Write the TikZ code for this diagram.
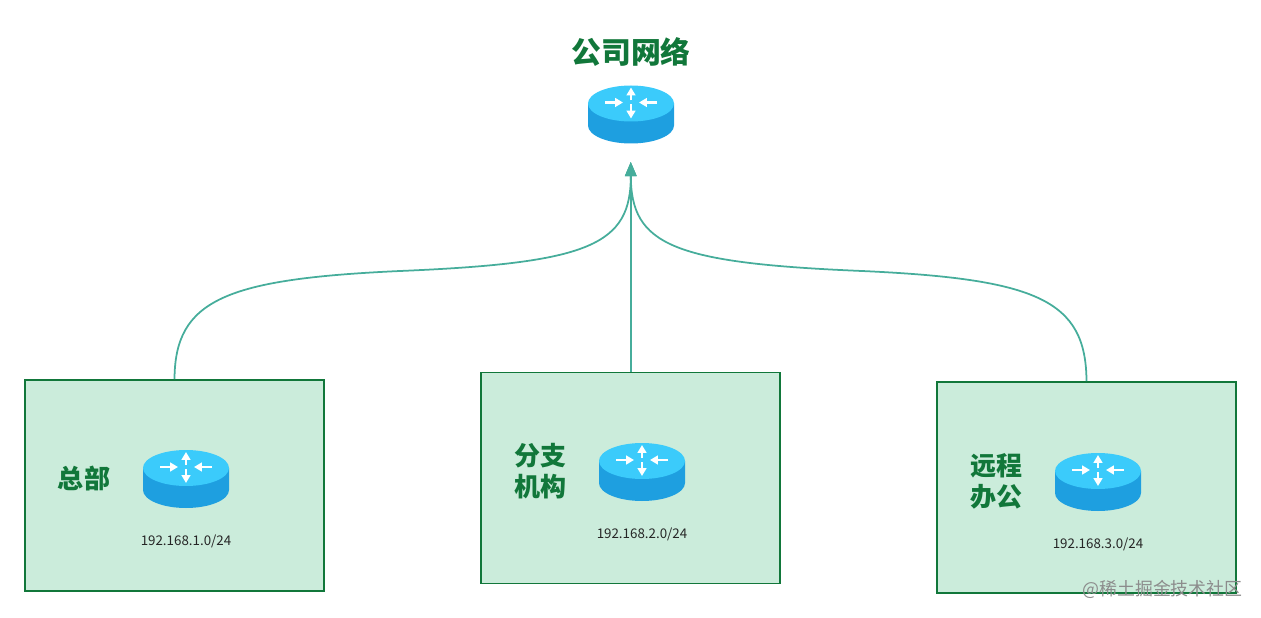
\documentclass[tikz,border=0pt]{standalone}
\usepackage{fontspec}
\setmainfont{Noto Sans CJK SC}
\usetikzlibrary{arrows.meta,calc}
\definecolor{boxgreen}{HTML}{CBECDB}
\definecolor{darkgreen}{HTML}{11773A}
\definecolor{linkteal}{HTML}{46AD9B}
\definecolor{routertop}{HTML}{3BCBFB}
\definecolor{routerside}{HTML}{1E9FE0}
\tikzset{
    netbox/.style={draw=darkgreen, line width=1.1pt, fill=boxgreen, minimum width=5.98cm, minimum height=4.22cm, inner sep=0pt},
    title/.style={text=darkgreen, font=\fontsize{17}{20}\selectfont\bfseries, inner sep=0pt},
    sitelabel/.style={text=darkgreen, font=\fontsize{14.8}{17.6}\selectfont\bfseries, align=center, inner sep=0pt},
    iplabel/.style={text=black!85, font=\fontsize{7.6}{9}\selectfont, inner sep=0pt},
    link/.style={draw=linkteal, line width=1pt, -{Triangle[length=8pt,width=6.4pt]}},
    routerarrow/.style={draw=white, line width=1.2pt, -{Triangle[length=4.5pt,width=5pt]}},
    routerpic/.pic={
        \fill[routerside] (-43,0) -- (-43,22) arc[start angle=180, end angle=0, x radius=43, y radius=18] -- (43,0) -- cycle;
        \fill[routertop] (0,0) ellipse [x radius=43, y radius=18];
        \draw[routerarrow] (-26,-1) -- (-8,-1);
        \draw[routerarrow] (26,-1) -- (8,-1);
        \draw[routerarrow] (0,-3) -- (0,-16);
        \draw[routerarrow] (0,1) -- (0,15);
    }
}
\begin{document}
\begin{tikzpicture}[x=0.02cm, y=-0.02cm]
\useasboundingbox (0,0) rectangle (1261,618);

\node[netbox] (hqbox) at (174.5,485.5) {};
\node[netbox] (branchbox) at (630.75,478) {};
\node[netbox] (remotebox) at (1086.5,487.5) {};

\node[title] (nettitle) at (631,52) {公司网络};
\coordinate (nettip) at (630.75,162);
\pic at (631,103.5) {routerpic};

% sites
\foreach \cx/\cy/\ipname in {186/468/192.168.1.0, 642/461/192.168.2.0, 1098/471/192.168.3.0}{
    \pic at (\cx,\cy) {routerpic};
    \node[iplabel] (ip\cx) at (\cx,\cy+73) {\ipname/24};
}
\node[sitelabel] (hqlabel) at (84,478) {总部};
\node[sitelabel] (branchlabel) at (540,471) {分支\\机构};
\node[sitelabel] (remotelabel) at (996,481) {远程\\办公};

\draw[link] (hqbox.north) .. controls (175,300) and (225,279) .. (400,271)
    .. controls (590,263) and (631,245) .. (nettip);
\draw[link, line width=1.2pt] (branchbox.north) -- (nettip);
\draw[link] (remotebox.north) .. controls (1086,300) and (1037,279) .. (862,271)
    .. controls (672,263) and (631,245) .. (nettip);

\node[text=black!45, font=\fontsize{10.2}{12}\selectfont, inner sep=0pt] (watermark) at (1162.5,589) {@稀土掘金技术社区};
\end{tikzpicture}
\end{document}
